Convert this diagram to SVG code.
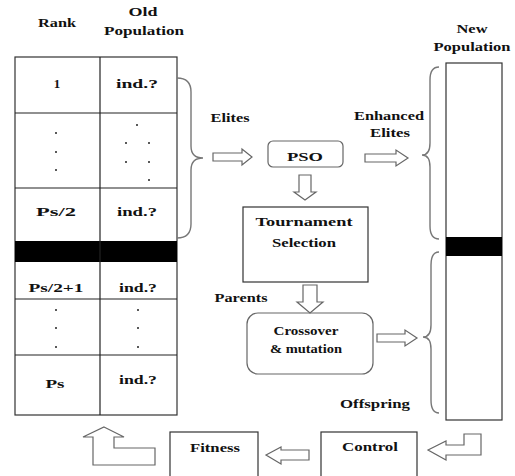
<svg xmlns="http://www.w3.org/2000/svg" width="515" height="476" viewBox="0 0 515 476">
<style>
text{font-family:"Liberation Serif","DejaVu Serif",serif;font-weight:bold;font-size:13px;fill:#111;text-anchor:middle}
.ln{fill:none;stroke:#222;stroke-width:1.2}
.box{fill:#fff;stroke:#333;stroke-width:1.2}
.rbox{fill:#fff;stroke:#666;stroke-width:1.2}
.arr{fill:#fff;stroke:#666;stroke-width:1.2;stroke-linejoin:miter}
.brace{fill:none;stroke:#777;stroke-width:1.4}
.dot{fill:#222}
</style>
<rect width="515" height="476" fill="#fff"/>

<g id="headers">
<text x="57" y="27" textLength="38" lengthAdjust="spacingAndGlyphs">Rank</text>
<text x="143" y="16" textLength="29" lengthAdjust="spacingAndGlyphs">Old</text>
<text x="144" y="35" textLength="80" lengthAdjust="spacingAndGlyphs">Population</text>
<text x="472" y="33" textLength="31" lengthAdjust="spacingAndGlyphs">New</text>
<text x="472" y="51" textLength="77" lengthAdjust="spacingAndGlyphs">Population</text>
</g>

<g id="old-population">
<rect class="box" x="15" y="57" width="162" height="358"/>
<rect x="15" y="241" width="162" height="21" fill="#000"/>
<line class="ln" x1="100" y1="57" x2="100" y2="415"/>
<line class="ln" x1="15" y1="113" x2="177" y2="113"/>
<line class="ln" x1="15" y1="188" x2="177" y2="188"/>
<line class="ln" x1="15" y1="299" x2="177" y2="299"/>
<line class="ln" x1="15" y1="355" x2="177" y2="355"/>
<text x="57" y="88">1</text>
<text x="137" y="88" textLength="42" lengthAdjust="spacingAndGlyphs">ind.?</text>
<circle class="dot" cx="56" cy="133" r="1"/><circle class="dot" cx="56" cy="152" r="1"/><circle class="dot" cx="56" cy="170" r="1"/>
<circle class="dot" cx="137" cy="125" r="1"/><circle class="dot" cx="126" cy="143" r="1"/><circle class="dot" cx="149" cy="143" r="1"/>
<circle class="dot" cx="126" cy="162" r="1"/><circle class="dot" cx="149" cy="162" r="1"/><circle class="dot" cx="149" cy="180" r="1"/>
<text x="56" y="216" textLength="40" lengthAdjust="spacingAndGlyphs">Ps/2</text>
<text x="137" y="216" textLength="40" lengthAdjust="spacingAndGlyphs">ind.?</text>
<text x="56" y="292" textLength="55" lengthAdjust="spacingAndGlyphs">Ps/2+1</text>
<text x="138" y="292" textLength="38" lengthAdjust="spacingAndGlyphs">ind.?</text>
<circle class="dot" cx="56" cy="310" r="1"/><circle class="dot" cx="56" cy="328" r="1"/><circle class="dot" cx="56" cy="347" r="1"/>
<circle class="dot" cx="138" cy="310" r="1"/><circle class="dot" cx="138" cy="328" r="1"/><circle class="dot" cx="138" cy="347" r="1"/>
<text x="55" y="388" textLength="19" lengthAdjust="spacingAndGlyphs">Ps</text>
<text x="138" y="384" textLength="38" lengthAdjust="spacingAndGlyphs">ind.?</text>
</g>

<g id="new-population">
<rect class="box" x="446" y="63" width="56" height="357"/>
<rect x="446" y="237" width="56" height="19" fill="#000"/>
</g>

<g id="pso">
<rect class="rbox" x="268" y="141" width="75" height="26" rx="5"/>
<text x="305" y="161" textLength="36" lengthAdjust="spacingAndGlyphs">PSO</text>
</g>

<g id="tournament">
<rect class="box" x="243" y="207" width="125" height="75"/>
<text x="304" y="226" textLength="97" lengthAdjust="spacingAndGlyphs">Tournament</text>
<text x="304" y="247" textLength="64" lengthAdjust="spacingAndGlyphs">Selection</text>
</g>

<g id="crossover">
<rect class="rbox" x="247" y="313" width="126" height="61" rx="11"/>
<text x="306" y="335" textLength="65" lengthAdjust="spacingAndGlyphs">Crossover</text>
<text x="306" y="353" textLength="72" lengthAdjust="spacingAndGlyphs">&amp; mutation</text>
</g>

<g id="fitness">
<rect class="box" x="170" y="432" width="88" height="50"/>
<text x="215" y="452" textLength="50" lengthAdjust="spacingAndGlyphs">Fitness</text>
</g>

<g id="control">
<rect class="box" x="321" y="432" width="96" height="50"/>
<text x="370" y="451" textLength="56" lengthAdjust="spacingAndGlyphs">Control</text>
</g>

<g id="labels">
<text x="230" y="122" textLength="39" lengthAdjust="spacingAndGlyphs">Elites</text>
<text x="389" y="120" textLength="70" lengthAdjust="spacingAndGlyphs">Enhanced</text>
<text x="390" y="137" textLength="40" lengthAdjust="spacingAndGlyphs">Elites</text>
<text x="241" y="302" textLength="53" lengthAdjust="spacingAndGlyphs">Parents</text>
<text x="375" y="408" textLength="70" lengthAdjust="spacingAndGlyphs">Offspring</text>
</g>

<g id="connectors">
<path class="brace" d="M177,78 Q191,78 191,92 L191,146 Q191,158 203,158 Q191,158 191,170 L191,224 Q191,238 177,238"/>
<path class="brace" d="M439,67 Q430,67 430,80 L430,143 Q430,155 422,155 Q430,155 430,167 L430,226 Q430,239 439,239"/>
<path class="brace" d="M439,252 Q431,252 431,265 L431,325 Q431,337 423,337 Q431,337 431,349 L431,400 Q431,413 439,413"/>
<polygon class="arr" points="213,153 242,153 242,149 252,157 242,165 242,161 213,161"/>
<polygon class="arr" points="365,154 396,154 396,150 408,158 396,166 396,162 365,162"/>
<polygon class="arr" points="377,334 405,334 405,330 417,338 405,346 405,342 377,342"/>
<polygon class="arr" points="299,175 311,175 311,192 316,192 305,200 294,192 299,192"/>
<polygon class="arr" points="303,285 317,285 317,302 323,302 310,313 297,302 303,302"/>
<polygon class="arr" points="266,455 281,447 281,450 309,450 309,460 281,460 281,464"/>
<polygon class="arr" points="104,427 124,437 114,437 114,448 155,448 155,465 93,465 93,437 83,437"/>
<polygon class="arr" points="428,450 446,441 446,445 464,445 464,434 481,434 481,455 446,455 446,460"/>
</g>
</svg>
